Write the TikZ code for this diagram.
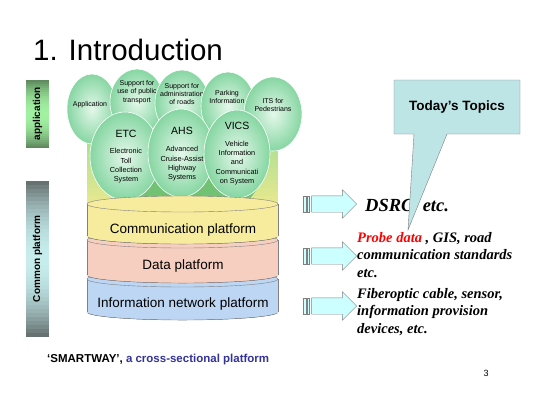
\documentclass[tikz,border=0pt]{standalone}
\usepackage{fontspec}
\setmainfont{Liberation Sans}
\newfontfamily\timesfont{Liberation Serif}
\usetikzlibrary{shapes.geometric,shapes.arrows}

\definecolor{bubblein}{HTML}{E4F8EA}
\definecolor{bubbleout}{HTML}{86D6A2}
\definecolor{leafgreen}{HTML}{9ADC92}
\definecolor{leafyellow}{HTML}{E6E890}
\definecolor{trunkgreen}{HTML}{72C274}
\definecolor{commyellow}{HTML}{F7EC9E}
\definecolor{datapink}{HTML}{F6CFC0}
\definecolor{netblue}{HTML}{BCD6F4}
\definecolor{arrowcyan}{HTML}{CCFFFF}
\definecolor{topiccyan}{HTML}{BDE5E5}
\definecolor{smartblue}{HTML}{333399}
\definecolor{bardark}{HTML}{5E8A5E}
\definecolor{barlight}{HTML}{A2F0A2}
\definecolor{greydark}{HTML}{667272}
\definecolor{greylight}{HTML}{C6ECEC}

\begin{document}
\begin{tikzpicture}[x=1pt,y=-1pt,
    bubble/.style={ellipse,draw=white,line width=0.6pt,inner color=bubblein,outer color=bubbleout,inner sep=0pt},
    small/.style={font=\fontsize{7}{8.2}\selectfont,align=center,inner sep=0pt},
    desc/.style={font=\fontsize{7.3}{9.3}\selectfont,align=center,inner sep=0pt},
    bigname/.style={font=\fontsize{10.5}{12}\selectfont,inner sep=0pt},
    layer/.style={font=\fontsize{13.5}{15}\selectfont,inner sep=0pt},
    sidebar/.style={rotate=90,inner sep=0pt,font=\fontsize{10}{11}\selectfont\bfseries},
    blockarrow/.style={single arrow,draw=gray,fill=arrowcyan,minimum width=28pt,minimum height=45pt,
        single arrow head extend=6pt,single arrow tip angle=90,inner xsep=0pt,inner ysep=8pt},
    stripe/.style={draw=gray,fill=arrowcyan,line width=0.4pt},
    topic/.style={font=\timesfont\bfseries\itshape\fontsize{14.5}{17.5}\selectfont,align=left,inner sep=0pt,anchor=north west}]
\useasboundingbox (0,0) rectangle (540,400);
\fill[white] (0,0) rectangle (540,400);

\node[anchor=base west,inner sep=0pt,font=\fontsize{29.5}{32}\selectfont] (title) at (33,60) {1. Introduction};

% side bars, dark at both ends, light in the middle
\foreach \i in {0,...,33} {
  \pgfmathsetmacro\m{100*(abs(\i-16.5)/16.5)^2}
  \fill[bardark!\m!barlight] (26,80+2*\i) rectangle (49,82.3+2*\i);
}
\node[sidebar] (appbar) at (37.5,114) {application};
\foreach \i in {0,...,38} {
  \pgfmathsetmacro\m{100*(abs(\i-19)/19)^2}
  \fill[greydark!\m!greylight] (26,181+4*\i) rectangle (49,185.3+4*\i);
}
\node[sidebar] (platbar) at (37.5,259) {Common platform};

% green ground behind the bubbles
\foreach \i in {0,...,20} {
  \pgfmathsetmacro\m{100-5*\i}
  \fill[leafgreen!\m!leafyellow] (87,120+4*\i) rectangle (278,124.3+4*\i);
}
\fill[trunkgreen] (108,165) -- (258,165) -- (258,188) -- (246,204) -- (120,204) -- (108,188) -- cycle;

\node[bubble,minimum width=50pt,minimum height=70pt] (app) at (92,109) {};
\node[small] (app-t) at (90,105) {Application};
\node[bubble,minimum width=54pt,minimum height=66pt] (pub) at (137,102) {};
\node[small] (pub-t) at (137,92) {Support for\\use of public\\transport};
\node[bubble,minimum width=54pt,minimum height=66pt] (road) at (182,103) {};
\node[small] (road-t) at (182,94) {Support for\\administration\\of roads};
\node[bubble,minimum width=54pt,minimum height=68pt] (park) at (228,106) {};
\node[small] (park-t) at (227,97) {Parking\\Information};
\node[bubble,minimum width=58pt,minimum height=74pt] (its) at (273,114) {};
\node[small] (its-t) at (273,105) {ITS for\\Pedestrians};

\node[bubble,minimum width=70pt,minimum height=88pt] (etc) at (125,156) {};
\node[bigname] (etc-t) at (126,134) {ETC};
\node[desc] (etc-d) at (126,166) {Electronic\\Toll\\Collection\\System};
\node[bubble,minimum width=66pt,minimum height=88pt] (ahs) at (181,153) {};
\node[bigname] (ahs-t) at (182,131) {AHS};
\node[desc] (ahs-d) at (182,164) {Advanced\\Cruise-Assist\\Highway\\Systems};
\node[bubble,minimum width=66pt,minimum height=88pt] (vics) at (237,154) {};
\node[bigname] (vics-t) at (237,126) {VICS};
\node[desc] (vics-d) at (237,163) {Vehicle\\Information\\and\\Communicati\\on System};

% platform disks, bottom one first
\foreach \top/\bot/\col in {279/312/netblue,240/275/datapink,204/236/commyellow} {
  \filldraw[draw=gray,left color=\col,middle color=white,right color=\col] (182.5,\bot) ellipse [x radius=95.5pt,y radius=8pt];
  \fill[left color=\col,middle color=white,right color=\col] (87,\top) rectangle (278,\bot);
  \draw[gray] (87,\top) -- (87,\bot) (278,\top) -- (278,\bot);
  \filldraw[draw=gray,fill=\col] (182.5,\top) ellipse [x radius=95.5pt,y radius=8pt];
}
\node[layer] (comm) at (183,230) {Communication platform};
\node[layer] (data) at (183,266) {Data platform};
\node[layer] (net) at (183,304) {Information network platform};

\node[blockarrow] (arr1) at (330,204) {};
\node[blockarrow] (arr2) at (330,256) {};
\node[blockarrow] (arr3) at (330,306) {};
\foreach \a in {arr1,arr2,arr3} {
  \draw[stripe] ([xshift=-8pt,yshift=-8pt]\a.west) rectangle ++(2.5pt,16pt);
  \draw[stripe] ([xshift=-4.5pt,yshift=-8pt]\a.west) rectangle ++(2.5pt,16pt);
}

\node[anchor=base west,inner sep=0pt,font=\timesfont\bfseries\itshape\fontsize{18.5}{20}\selectfont] (dsrc) at (365,211) {DSRC\ \ etc.};
\node[topic] (probe) at (357,232) {\textcolor{red}{Probe data} , GIS, road\\communication standards\\etc.};
\node[topic] (fiber) at (357,288) {Fiberoptic cable, sensor,\\information provision\\devices, etc.};

% callout
\filldraw[draw=gray,fill=topiccyan] (394,80) -- (520,80) -- (520,134) -- (447,134) -- (408,230) -- (414,134) -- (394,134) -- cycle;
\node[inner sep=0pt,font=\fontsize{13.5}{15}\selectfont\bfseries] (topics) at (457,107) {Today's Topics};

\node[anchor=base west,inner sep=0pt,font=\fontsize{11.5}{13}\selectfont\bfseries] (smartway) at (47,362) {‘SMARTWAY’, \textcolor{smartblue}{a cross-sectional platform}};
\node[inner sep=0pt,font=\fontsize{9}{10}\selectfont] (page) at (486,373) {3};
\end{tikzpicture}
\end{document}
